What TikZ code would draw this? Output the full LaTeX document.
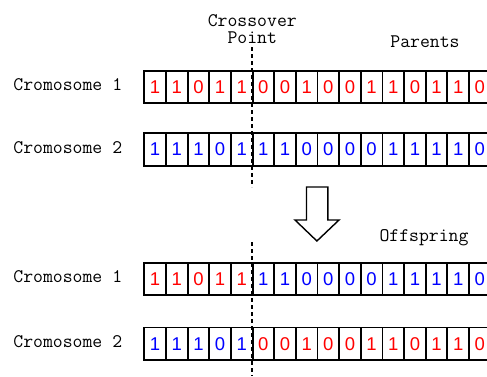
\documentclass[tikz,border=0pt]{standalone}
\usepackage{fontspec}
\newfontfamily\bitfont{Liberation Sans}
\begin{document}
\begin{tikzpicture}[
        x=1pt, y=-1pt,
        cut/.style={dash pattern=on 4pt off 3pt, line width=2pt}
    ]
    \tikzstyle{cell} = [
        draw, 
        line width = 1.9pt,
        minimum width = 21.65pt,
        minimum height = 32.5pt,
        inner sep = 0pt,
        font = \bitfont\fontsize{18.5}{18.5}\selectfont
    ]
    \tikzstyle{caption} = [
        align = center,
        inner sep = 0pt,
        font = \ttfamily\fontsize{19.2}{17.2}\selectfont
    ]

    \useasboundingbox (0,0) rectangle (487,376);
    \clip (0,0) rectangle (487,376);

    % the four chromosomes, cut after the fifth gene
    \foreach \name/\y/\num/\head/\tail/\bits in {
            p1/86.8/1/red/red/{1,1,0,1,1,0,0,1,0,0,1,1,0,1,1,0},
            p2/149.5/2/blue/blue/{1,1,1,0,1,1,1,0,0,0,0,1,1,1,1,0},
            o1/278.8/1/red/blue/{1,1,0,1,1,1,1,0,0,0,0,1,1,1,1,0},
            o2/343.7/2/blue/red/{1,1,1,0,1,0,0,1,0,0,1,1,0,1,1,0}}
    {
        \foreach \bit [count=\i] in \bits {
            \ifnum\i<6 \def\ink{\head}\else\def\ink{\tail}\fi
            \node [cell, text=\ink] (\name-\i) at ({144.3+(\i-0.5)*21.65}, \y) {\bit};
        }
        \node [caption, anchor=base east] (name-\name) 
            at ([xshift=-21pt, yshift=-3.5pt]\name-1.west) {Cromosome \num};
    }

    \node [caption, anchor=base] (crossover) at (252.3,43.3) {Crossover\\Point};
    \node [caption, anchor=base] (parents) at (425,47.5) {Parents};
    \node [caption, anchor=base] (offspring) at (424,241) {Offspring};

    \coordinate (cut-a) at (252.3,187);
    \coordinate (cut-b) at (252.3,242);
    \coordinate (cut-c) at (252.3,376);
    \draw [cut] (crossover.south |- 0,47) -- (cut-a);
    \draw [cut] (cut-b) -- (cut-c);

    % big arrow from parents to offspring
    \draw [line width=1.4pt, line join=miter] 
        (306.5,187) -- (327.8,187) -- (327.8,220) -- (339,220) 
        -- (316.9,241) -- (295,220) -- (306.5,220) -- cycle;
\end{tikzpicture}
\end{document}
